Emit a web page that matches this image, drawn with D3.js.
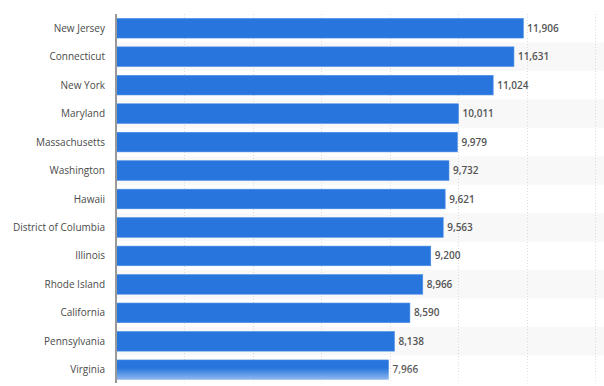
<!DOCTYPE html>
<html>
<head>
<meta charset="utf-8">
<script src="https://cdn.jsdelivr.net/npm/d3@7"></script>
<style>
  body { margin: 0; background: #fff; }
  #chart { width: 604px; height: 386px; }
</style>
</head>
<body>
<div id="chart"></div>
<script>
let states = ['New Jersey', 'Connecticut', 'New York', 'Maryland', 'Massachusetts', 'Washington',
    'Hawaii', 'District of Columbia', 'Illinois', 'Rhode Island', 'California', 'Pennsylvania', 'Virginia'];
let values = [11906, 11631, 11024, 10011, 9979, 9732, 9621, 9563, 9200, 8966, 8590, 8138, 7966];
let xTicks = [0, 2000, 4000, 6000, 8000, 10000, 12000, 14000];

let data = states.map((s, i) => ({state: s, value: values[i]}));

let width = 604,
    height = 386,
    margin = {left: 116, top: 14, right: 9, bottom: 2};

let svg = d3.select('#chart').append('svg')
    .attr('width', width)
    .attr('height', height);

let xScale = d3.scaleLinear()
    .domain([0, 14000])
    .range([margin.left, width - margin.right]);

let yScale = d3.scaleBand()
    .domain(states)
    .range([margin.top, height - margin.bottom])
    .paddingInner(0.31)
    .paddingOuter(0.155);

let step = yScale.step(),
    gap = (step - yScale.bandwidth()) / 2;

// alternating row bands
svg.append('g').selectAll('rect')
    .data(data.filter((d, i) => i % 2 === 1))
    .join('rect')
    .attr('x', margin.left)
    .attr('y', d => yScale(d.state) - gap)
    .attr('width', width - margin.left)
    .attr('height', step)
    .attr('fill', '#f8f8f8');

// dotted gridlines
svg.append('g').selectAll('line')
    .data(xTicks.slice(1))
    .join('line')
    .attr('x1', d => Math.round(xScale(d)) + 0.5)
    .attr('x2', d => Math.round(xScale(d)) + 0.5)
    .attr('y1', margin.top)
    .attr('y2', height)
    .attr('stroke', '#dcdcdc')
    .attr('stroke-dasharray', '1,2');

let defs = svg.append('defs');
let grad = defs.append('linearGradient')
    .attr('id', 'fade')
    .attr('x1', 0).attr('y1', 0).attr('x2', 0).attr('y2', 1);
grad.append('stop').attr('offset', '0%').attr('stop-color', '#fff').attr('stop-opacity', 0);
grad.append('stop').attr('offset', '100%').attr('stop-color', '#fff').attr('stop-opacity', 0.75);

// bars
svg.append('g').selectAll('rect')
    .data(data)
    .join('rect')
    .attr('x', margin.left)
    .attr('y', d => yScale(d.state))
    .attr('width', d => xScale(d.value) - margin.left)
    .attr('height', yScale.bandwidth())
    .attr('fill', '#2876dd')
    .attr('stroke', '#4a8ee6')
    .attr('stroke-width', 0.6);

// value labels
svg.append('g').selectAll('text')
    .data(data)
    .join('text')
    .attr('x', d => xScale(d.value) + 4)
    .attr('y', d => yScale(d.state) + yScale.bandwidth() / 2)
    .attr('dy', '0.35em')
    .attr('font-family', 'Open Sans, sans-serif')
    .attr('font-size', 10)
    .attr('font-weight', 600)
    .attr('fill', '#555')
    .text(d => d3.format(',')(d.value));

// category labels
svg.append('g').selectAll('text')
    .data(data)
    .join('text')
    .attr('x', margin.left - 11)
    .attr('y', d => yScale(d.state) + yScale.bandwidth() / 2)
    .attr('dy', '0.35em')
    .attr('text-anchor', 'end')
    .attr('font-family', 'Open Sans, sans-serif')
    .attr('font-size', 10)
    .attr('fill', '#4a4a4a')
    .text(d => d.state);

// bottom fade (cropped chart)
svg.append('rect')
    .attr('x', margin.left)
    .attr('y', height - 18)
    .attr('width', width - margin.left)
    .attr('height', 18)
    .attr('fill', 'url(#fade)');

// y axis line
svg.append('line')
    .attr('x1', margin.left)
    .attr('x2', margin.left)
    .attr('y1', margin.top)
    .attr('y2', height - 3)
    .attr('stroke', '#999')
    .attr('stroke-width', 2);
</script>
</body>
</html>
